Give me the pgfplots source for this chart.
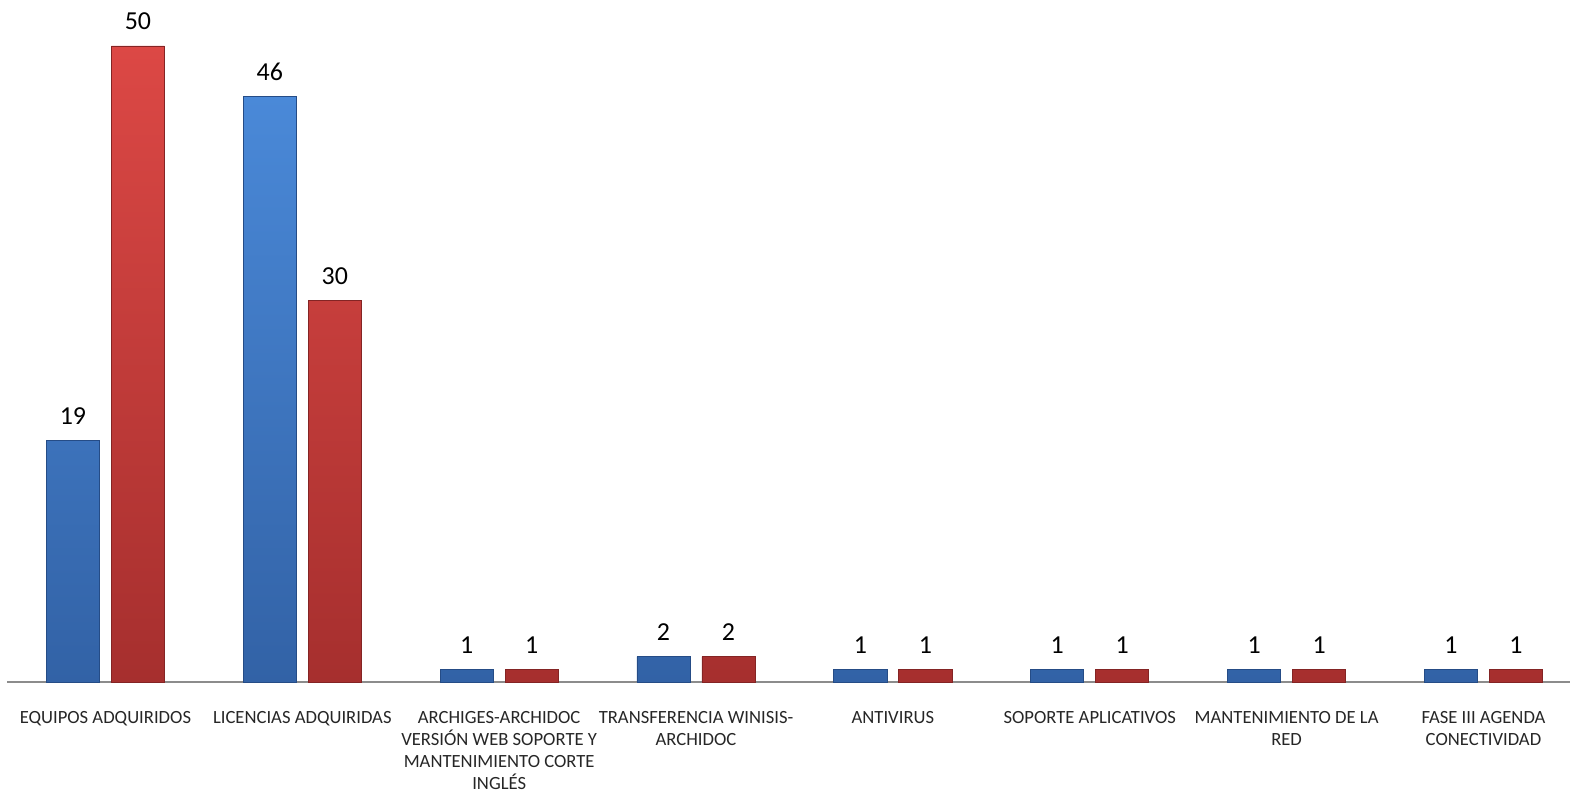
\documentclass[border=0pt]{standalone}
\usepackage{pgfplots}
\pgfplotsset{compat=1.18}
\usepackage{fontspec}
\setmainfont{Carlito}
\definecolor{bluetop}{HTML}{4A89D8}
\definecolor{bluebot}{HTML}{3262A6}
\definecolor{blueedge}{HTML}{254C86}
\definecolor{redtop}{HTML}{DC4845}
\definecolor{redbot}{HTML}{A62F2E}
\definecolor{rededge}{HTML}{842424}
\begin{document}
\begin{tikzpicture}
\path[use as bounding box] (0,0) rectangle (1570bp,795bp);
\begin{axis}[
  at={(7bp,113bp)}, anchor=south west,
  scale only axis, width=1575bp, height=661.44bp,
  xmin=-0.5, xmax=7.5, ymin=0, ymax=52,
  clip=false,
  ybar, bar width=0.27,
  axis y line=none,
  axis x line*=bottom,
  x axis line style={draw=black!45, line width=1.5bp},
  xtick={0,...,7},
  xtick style={draw=none},
  major tick length=0pt,
  xticklabels={
    {EQUIPOS ADQUIRIDOS},
    {LICENCIAS ADQUIRIDAS},
    {ARCHIGES-ARCHIDOC\\VERSIÓN WEB SOPORTE Y\\MANTENIMIENTO CORTE\\INGLÉS},
    {TRANSFERENCIA WINISIS-\\ARCHIDOC},
    {ANTIVIRUS},
    {SOPORTE APLICATIVOS},
    {MANTENIMIENTO DE LA\\RED},
    {FASE III AGENDA\\CONECTIVIDAD}},
  xticklabel style={align=center, font=\fontsize{18.7}{22}\selectfont, inner sep=0pt, yshift=-29bp, text=black!85},
  /pgf/number format/assume math mode=true,
  nodes near coords,
  every node near coord/.append style={font=\fontsize{26}{30}\selectfont, anchor=base, inner sep=0pt, yshift=16bp, text=black},
]
\addplot[bar shift=-0.165, draw=blueedge, line width=0.8bp, top color=bluetop, bottom color=bluebot]
  coordinates {(0,19) (1,46) (2,1) (3,2) (4,1) (5,1) (6,1) (7,1)};
\addplot[bar shift=0.165, draw=rededge, line width=0.8bp, top color=redtop, bottom color=redbot]
  coordinates {(0,50) (1,30) (2,1) (3,2) (4,1) (5,1) (6,1) (7,1)};
\end{axis}
\end{tikzpicture}
\end{document}
